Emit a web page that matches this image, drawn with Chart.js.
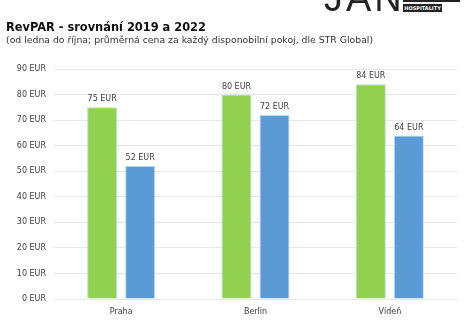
<!DOCTYPE html>
<html>
<head>
<meta charset="utf-8">
<script src="https://cdn.jsdelivr.net/npm/chart.js@4"></script>
<style>
  body { margin: 0; background: #fff; font-family: "DejaVu Sans", Verdana, sans-serif; }
  #wrap { position: relative; width: 468px; height: 328px; overflow: hidden; }
  #myChart { position: absolute; left: 0; top: 0; }
  .title { position: absolute; left: 6px; top: 20px; font-size: 11.4px; font-weight: bold; color: #111; }
  .subtitle { position: absolute; left: 6px; top: 34px; font-size: 9.3px; color: #333; white-space: nowrap; }
  .logo { position: absolute; left: 324px; top: -23px; font-family: "Liberation Sans", sans-serif; font-size: 38px; color: #222; letter-spacing: 3px; }
  .bar { position: absolute; left: 403px; top: 0; width: 57px; height: 2px; background: #222; }
  .hosp { position: absolute; left: 403px; top: 4px; width: 39px; height: 8px; background: #222; color: #fff;
          font-size: 5px; font-weight: bold; line-height: 8px; text-align: center; }
</style>
</head>
<body>
<div id="wrap">
  <canvas id="myChart" width="468" height="328"></canvas>
  <div class="logo">JAN</div>
  <div class="bar"></div>
  <div class="hosp">HOSPITALITY</div>
  <div class="title">RevPAR - srovnání 2019 a 2022</div>
  <div class="subtitle">(od ledna do října; průměrná cena za každý disponobilní pokoj, dle STR Global)</div>
</div>
<script>
const cities = ["Praha", "Berlin", "Vídeň"];
const revpar2019 = [75, 80, 84];
const revpar2022 = [52, 72, 64];

// value labels above each bar
const barLabels = {
  id: "barLabels",
  afterDatasetsDraw(chart) {
    const ctx = chart.ctx;
    ctx.save();
    ctx.font = "8px 'DejaVu Sans', Verdana, sans-serif";
    ctx.fillStyle = "#404040";
    ctx.textAlign = "center";
    ctx.textBaseline = "bottom";
    chart.data.datasets.forEach((ds, i) => {
      chart.getDatasetMeta(i).data.forEach((bar, j) => {
        ctx.fillText(ds.data[j] + " EUR", bar.x, bar.y - 4);
      });
    });
    ctx.restore();
  },
};

const ctx = document.getElementById("myChart").getContext("2d");
const myChart = new Chart(ctx, {
  type: "bar",
  data: {
    labels: cities,
    datasets: [
      {
        label: "2019",
        data: revpar2019,
        backgroundColor: "#92d050",
        borderColor: "#b5dce6",
        borderWidth: 1,
      },
      {
        label: "2022",
        data: revpar2022,
        backgroundColor: "#5b9bd5",
        borderColor: "#b5dce6",
        borderWidth: 1,
      },
    ],
  },
  options: {
    responsive: false,
    animation: false,
    datasets: { bar: { categoryPercentage: 0.566, barPercentage: 0.79 } },
    layout: { padding: { top: 69, left: 0, right: 11, bottom: 0 } },
    plugins: {
      legend: { display: false },
      tooltip: { enabled: false },
    },
    scales: {
      y: {
        min: 0,
        max: 90,
        ticks: {
          stepSize: 10,
          padding: 8,
          color: "#404040",
          font: { family: "'DejaVu Sans', Verdana, sans-serif", size: 8 },
          callback: (v) => v + " EUR",
        },
        grid: { color: "#e8e8e8", drawTicks: false },
        border: { display: false },
        afterFit: (scale) => { scale.width = 54; },
      },
      x: {
        ticks: {
          padding: 8,
          color: "#404040",
          font: { family: "'DejaVu Sans', Verdana, sans-serif", size: 8 },
        },
        grid: { display: false, drawTicks: false },
        border: { display: false },
        afterFit: (scale) => { scale.height = 29; },
      },
    },
  },
  plugins: [barLabels],
});
</script>
</body>
</html>
